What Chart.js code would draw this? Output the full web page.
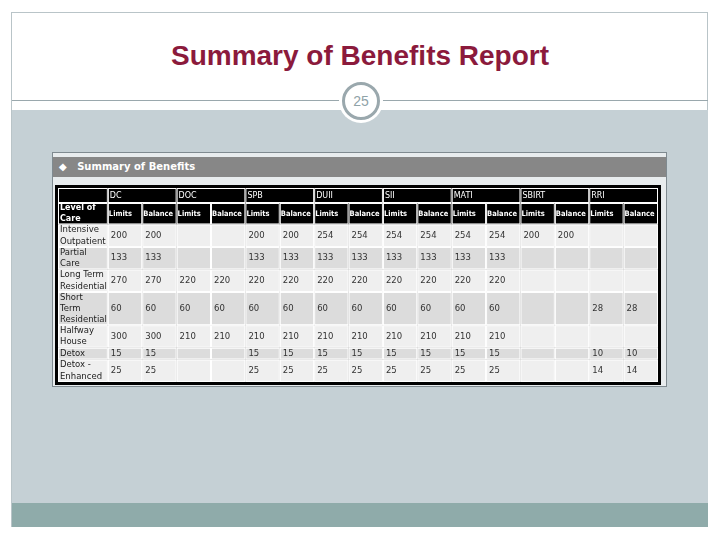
<!DOCTYPE html>
<html><head><meta charset="utf-8">
<script src="https://cdn.jsdelivr.net/npm/chart.js@4"></script>
<style>
body{margin:0;width:720px;height:540px;background:#fff;position:relative;overflow:hidden;font-family:"Liberation Sans",Arial,sans-serif}
#frame{position:absolute;left:11px;top:12px;width:697px;height:515px;border:1px solid #b9c4c8;box-sizing:border-box}
#title{position:absolute;left:0;width:720px;top:40px;text-align:center;font-size:28px;font-weight:bold;color:#8b1a3c}
#rule{position:absolute;left:12px;width:696px;top:100px;border-top:1px solid #9aa8ad}
#panel{position:absolute;left:12px;top:110px;width:696px;height:393px;background:#c5d0d5}
#foot{position:absolute;left:12px;top:503px;width:696px;height:24px;background:#8fabaa}
#badge{position:absolute;left:342px;top:82px;width:32px;height:32px;border-radius:50%;background:#fff;border:3px solid #9aa8ad;box-shadow:0 0 0 3px #fff;text-align:center;line-height:32px;font-size:14px;color:#8fa3a8}
#img{position:absolute;left:52px;top:152px;width:615px;height:235px;background:#e8ecee;border:1px solid #7f8a90;box-sizing:border-box}
#bar{position:absolute;left:53px;top:157px;width:613px;height:20px;background:#878787;color:#fff;font:bold 10px "DejaVu Sans";line-height:20px;padding-left:6px;box-sizing:border-box}
#wrap{position:absolute;left:52px;top:152px;width:615px;height:235px}
</style></head><body>
<div id="frame"></div><div id="title">Summary of Benefits Report</div><div id="rule"></div>
<div id="panel"></div><div id="foot"></div><div id="badge">25</div>
<div id="img"></div><div id="bar">◆&nbsp;&nbsp; Summary of Benefits</div>
<div id="wrap"><canvas id="c" width="615" height="235"></canvas></div>
<script>
const programs=['DC','DOC','SPB','DUII','SII','MATI','SBIRT','RRI'];
const levels=[['Intensive','Outpatient'],['Partial','Care'],['Long Term','Residential'],['Short','Term','Residential'],['Halfway','House'],['Detox'],['Detox -','Enhanced']];
const limits={
 DC:[200,133,270,60,300,15,25],
 DOC:[null,null,220,60,210,null,null],
 SPB:[200,133,220,60,210,15,25],
 DUII:[254,133,220,60,210,15,25],
 SII:[254,133,220,60,210,15,25],
 MATI:[254,133,220,60,210,15,25],
 SBIRT:[200,null,null,null,null,null,null],
 RRI:[null,null,null,28,null,10,14]};
const balances={
 DC:[200,133,270,60,300,15,25],
 DOC:[null,null,220,60,210,null,null],
 SPB:[200,133,220,60,210,15,25],
 DUII:[254,133,220,60,210,15,25],
 SII:[254,133,220,60,210,15,25],
 MATI:[254,133,220,60,210,15,25],
 SBIRT:[200,null,null,null,null,null,null],
 RRI:[null,null,null,28,null,10,14]};
const subHeads=['Limits','Balance'];

const xEdges=[0,1.45];for(let i=1;i<=16;i++)xEdges.push(1.45+i);
const yEdges=[0,0.7,1.7];
levels.forEach(l=>{const h=l.length===1?0.55:l.length===3?1.55:1.05;yEdges.push(yEdges[yEdges.length-1]+h);});
const pts=[];
programs.forEach((p,pi)=>levels.forEach((l,ri)=>{
  pts.push({x:xEdges[1+pi*2],y:yEdges[2+ri],v:limits[p][ri]});
  pts.push({x:xEdges[2+pi*2],y:yEdges[2+ri],v:balances[p][ri]});
}));
const tablePlugin={id:'tbl',beforeDatasetsDraw(ch){
  const c=ch.ctx,X=ch.scales.x,Y=ch.scales.y;
  const px=v=>X.getPixelForValue(v),py=v=>Y.getPixelForValue(v);
  c.save();c.textBaseline='middle';
  c.fillStyle='#000';c.fillRect(px(0)-3,py(0)-3,px(xEdges[17])-px(0)+6,py(yEdges[yEdges.length-1])-py(0)+6);
  const cell=(x0,x1,y0,y1,bg)=>{c.fillStyle=bg;c.fillRect(px(x0),py(y0),px(x1)-px(x0),py(y1)-py(y0));
    c.strokeStyle='#fff';c.lineWidth=1;c.strokeRect(px(x0)+0.5,py(y0)+0.5,px(x1)-px(x0)-1,py(y1)-py(y0)-1);};
  cell(0,xEdges[1],0,0.7,'#000');
  programs.forEach((p,pi)=>{cell(xEdges[1+pi*2],xEdges[3+pi*2],0,0.7,'#000');
    c.fillStyle='#fff';c.font='8px "DejaVu Sans"';c.fillText(p,px(xEdges[1+pi*2])+2,py(0.35));});
  cell(0,xEdges[1],0.7,1.7,'#000');
  c.fillStyle='#fff';c.font='bold 8px "DejaVu Sans"';
  c.fillText('Level of',px(0)+2,py(0.95));c.fillText('Care',px(0)+2,py(1.45));
  for(let i=1;i<=16;i++){cell(xEdges[i],xEdges[i+1],0.7,1.7,'#000');
    c.fillStyle='#fff';c.font='bold 7.5px "DejaVu Sans Condensed","DejaVu Sans"';c.fillText(subHeads[(i-1)%2],px(xEdges[i])+1,py(1.2));}
  levels.forEach((l,ri)=>{const y0=yEdges[2+ri],y1=yEdges[3+ri],bg=ri%2?'#dcdcdc':'#efefef';
    for(let i=0;i<=16;i++)cell(xEdges[i],xEdges[i+1],y0,y1,bg);
    c.fillStyle='#222';c.font='8.5px "DejaVu Sans"';
    const lh=(py(y1)-py(y0))/l.length;
    l.forEach((t,k)=>c.fillText(t,px(0)+2,py(y0)+lh*(k+0.5)));});
  c.restore();},
 afterDatasetsDraw(ch){
  const c=ch.ctx,X=ch.scales.x,Y=ch.scales.y;c.save();c.fillStyle='#333';c.font='8.5px "DejaVu Sans"';c.textBaseline='middle';
  const ds=ch.data.datasets[0].data;
  ds.forEach(d=>{if(d.v==null)return;const ri=yEdges.indexOf(d.y);
    const ym=(Y.getPixelForValue(d.y)+Y.getPixelForValue(yEdges[ri+1]))/2;
    c.fillText(String(d.v),X.getPixelForValue(d.x)+3,ym);});
  c.restore();}};
new Chart(document.getElementById('c'),{type:'scatter',
 data:{datasets:[{data:pts,pointRadius:0}]},
 options:{responsive:false,animation:false,events:[],
  layout:{padding:{left:6,right:9,top:36,bottom:5}},
  plugins:{legend:{display:false},tooltip:{enabled:false}},
  scales:{x:{type:'linear',display:false,min:0,max:xEdges[17]},
          y:{type:'linear',display:false,reverse:true,min:0,max:yEdges[yEdges.length-1]}}},
 plugins:[tablePlugin]});
</script></body></html>
